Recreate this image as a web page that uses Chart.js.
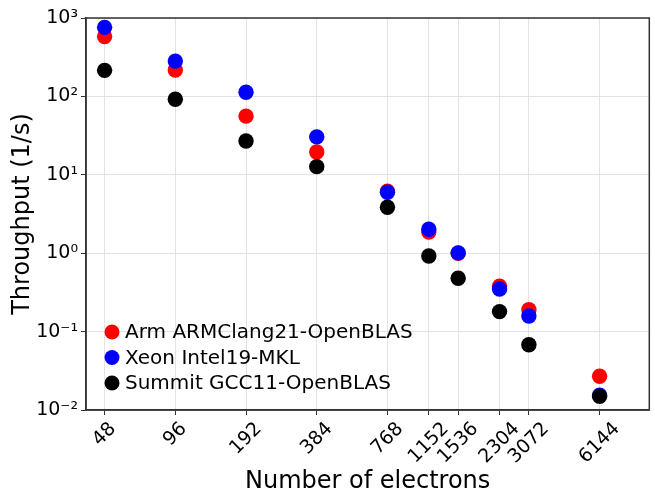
<!DOCTYPE html>
<html>
<head>
<meta charset="utf-8">
<script src="https://cdn.jsdelivr.net/npm/chart.js@4.4.1/dist/chart.umd.min.js"></script>
<style>
  html, body { margin: 0; padding: 0; background: #fff; overflow: hidden; }
  #wrap { width: 657px; height: 494px; }
</style>
</head>
<body>
<div id="wrap"><canvas id="grafico"></canvas></div>
<script>
// electron counts (x) and throughput (1/s) per platform
const eletrons = [48, 96, 192, 384, 768, 1152, 1536, 2304, 3072, 6144];
const armValues = [580, 217, 56, 19.5, 6.2, 1.86, 1.0, 0.38, 0.19, 0.027];
const xeonValues = [760, 282, 113, 30.5, 6.0, 2.02, 1.01, 0.35, 0.158, 0.0155];
const summitValues = [215, 92, 27, 12.7, 3.85, 0.92, 0.48, 0.18, 0.068, 0.015];

const yTicks = [0.01, 0.1, 1, 10, 100, 1000];
const yTickLabels = ['10⁻²', '10⁻¹', '10⁰', '10¹', '10²', '10³'];

const fonte = 'DejaVu Sans';

function pontos(valores) {
    return eletrons.map((e, i) => ({ x: e, y: valores[i] }));
}

// frame on all four sides + legend inside the plot + centred rotated x labels
const extras = {
    id: 'extras',
    afterDraw(chart) {
        const ctx = chart.ctx;
        const a = chart.chartArea;
        ctx.save();
        ctx.strokeStyle = '#333';
        ctx.lineWidth = 1.5;
        ctx.strokeRect(a.left, a.top, a.right - a.left, a.bottom - a.top);

        // x tick labels, rotated 45deg and centred on the tick
        const sx = chart.scales.x;
        ctx.font = '19px ' + fonte;
        ctx.fillStyle = '#000';
        ctx.textAlign = 'center';
        ctx.textBaseline = 'middle';
        eletrons.forEach(e => {
            const txt = String(e);
            const w = ctx.measureText(txt).width;
            const h = 14;
            const px = sx.getPixelForValue(e);
            const cy = a.bottom + 11 + (w + h) * 0.7071 / 2;
            ctx.save();
            ctx.translate(px, cy);
            ctx.rotate(-Math.PI / 4);
            ctx.fillText(txt, 0, 0);
            ctx.restore();
        });

        // legend
        ctx.font = '20px ' + fonte;
        ctx.textAlign = 'left';
        chart.data.datasets.forEach((ds, i) => {
            const y = a.bottom - 78 + i * 25.5;
            ctx.beginPath();
            ctx.arc(a.left + 26, y, 7.5, 0, Math.PI * 2);
            ctx.fillStyle = ds.backgroundColor;
            ctx.fill();
            ctx.fillStyle = '#000';
            ctx.fillText(ds.label, a.left + 39, y + 1);
        });
        ctx.restore();
    }
};

new Chart(document.getElementById('grafico').getContext('2d'), {
    type: 'scatter',
    data: {
        datasets: [{
            label: 'Arm ARMClang21-OpenBLAS',
            data: pontos(armValues),
            backgroundColor: '#ff0000',
            borderWidth: 0,
            pointRadius: 7.7,
            order: 3
        }, {
            label: 'Xeon Intel19-MKL',
            data: pontos(xeonValues),
            backgroundColor: '#0000ff',
            borderWidth: 0,
            pointRadius: 7.7,
            order: 2
        }, {
            label: 'Summit GCC11-OpenBLAS',
            data: pontos(summitValues),
            backgroundColor: '#000000',
            borderWidth: 0,
            pointRadius: 7.7,
            order: 1
        }]
    },
    options: {
        responsive: true,
        maintainAspectRatio: false,
        animation: false,
        layout: { padding: { top: 18, right: 0, left: 0, bottom: 0 } },
        plugins: {
            legend: { display: false },
            tooltip: { enabled: false }
        },
        scales: {
            x: {
                type: 'logarithmic',
                min: 40,
                max: 10000,
                afterBuildTicks: (scale) => {
                    scale.ticks = eletrons.map(v => ({ value: v }));
                },
                afterFit: (scale) => { scale.height = 84; },
                grid: { color: '#e3e3e3', tickColor: '#333', tickLength: 5, lineWidth: 1 },
                border: { color: '#333', width: 1.5 },
                ticks: { display: false },
                title: {
                    display: true,
                    text: 'Number of electrons',
                    font: { family: fonte, size: 24, lineHeight: 1.0 },
                    color: '#000',
                    padding: { top: 0, bottom: 0 }
                }
            },
            y: {
                type: 'logarithmic',
                min: 0.01,
                max: 1000,
                afterBuildTicks: (scale) => {
                    scale.ticks = yTicks.map(v => ({ value: v }));
                },
                afterFit: (scale) => { scale.width = 86; },
                grid: { color: '#e3e3e3', tickColor: '#333', tickLength: 5, lineWidth: 1 },
                border: { color: '#333', width: 1.5 },
                ticks: {
                    font: { family: fonte, size: 19 },
                    color: '#000',
                    padding: 3,
                    callback: (v) => {
                        const i = yTicks.indexOf(v);
                        return i >= 0 ? yTickLabels[i] : '';
                    }
                },
                title: {
                    display: true,
                    text: 'Throughput (1/s)',
                    font: { family: fonte, size: 24 },
                    color: '#000',
                    padding: { top: 8, bottom: 4 }
                }
            }
        }
    },
    plugins: [extras]
});
</script>
</body>
</html>
